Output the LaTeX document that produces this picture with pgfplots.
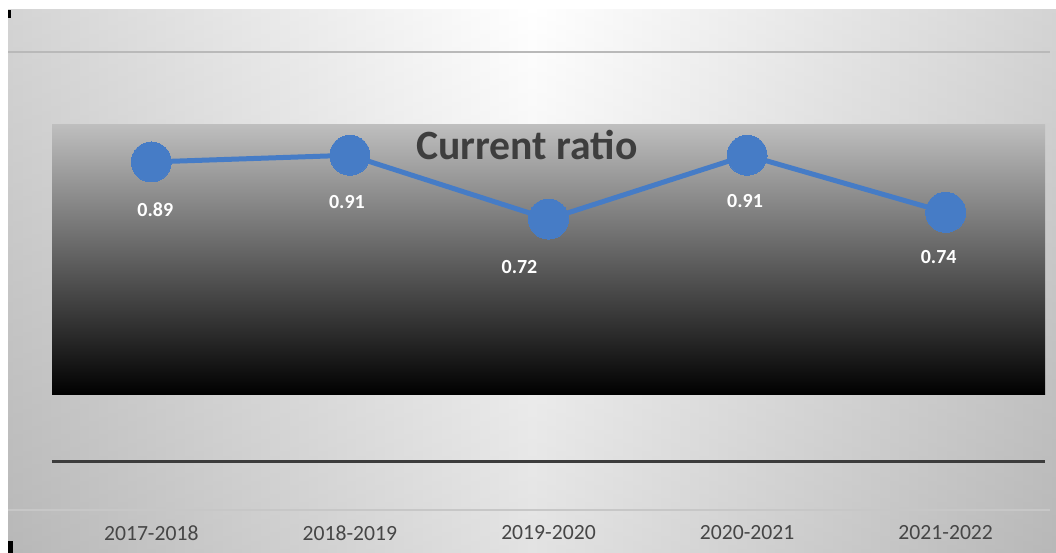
\documentclass[border=0pt]{standalone}
\usepackage{pgfplots}
\pgfplotsset{compat=1.18}
\usepackage{fontspec}
\setmainfont{Carlito}
\definecolor{ptblue}{RGB}{70,124,198}
\definecolor{titlegray}{RGB}{62,62,62}
\definecolor{ticklab}{RGB}{70,70,70}
\definecolor{panelgray}{RGB}{200,200,200}
\definecolor{boxtop}{RGB}{190,190,190}
\definecolor{axisdark}{RGB}{60,60,60}
\definecolor{lightline}{RGB}{185,185,185}

\pgfplotstableread{
x y lab dx dy
0 0.89 0.89 2.4 -28.6
1 0.91 0.91 -1.8 -28.2
2 0.72 0.72 -17.4 -28.8
3 0.91 0.91 -1.2 -27.6
4 0.74 0.74 -4.2 -27.0
}\ratiodata

\begin{document}
\begin{tikzpicture}
\begin{scope}[x=0.6pt,y=0.6pt]
\path[use as bounding box, fill=white] (0,0) rectangle (1056,553);
% background panel
\shade[left color=panelgray, right color=panelgray, middle color=white] (8,0) rectangle (1056,543);
\shade[top color=white, bottom color=gray, opacity=0.22] (8,0) rectangle (1056,543);
% corners
\fill[black] (8,543) rectangle (11,535);
\fill[black] (8,0) rectangle (13,12);
% dark plot box
\shade[top color=boxtop, bottom color=black] (52,158) rectangle (1045,428);
% decorative lines
\draw[line width=1.2pt, lightline] (8,501) -- (1050,501);
\draw[line width=0.8pt, lightline!80!white] (8,43) -- (1050,43);
\end{scope}

\begin{axis}[
  at={(31.2pt,25.8pt)}, anchor=south west,
  scale only axis, width=595.8pt, height=274.8pt,
  xmin=-0.5, xmax=4.5, ymin=-0.1458, ymax=1.2173,
  axis line style={draw=none},
  xtick={0,1,2,3,4},
  xticklabels={2017-2018,2018-2019,2019-2020,2020-2021,2021-2022},
  major tick length=0pt,
  ytick=\empty,
  extra y ticks={0},
  extra y tick labels={},
  extra y tick style={grid=major, major grid style={line width=1.8pt, color=axisdark}},
  xticklabel style={anchor=center, yshift=-13.8pt, font=\fontsize{13}{15}\selectfont, text=ticklab},
  clip=false,
]
\addplot[color=ptblue, line width=3pt, mark=*, mark size=12pt,
  mark options={fill=ptblue, draw=ptblue, line width=0pt},
  nodes near coords, point meta=explicit symbolic,
  visualization depends on={\thisrow{dx} \as \dx},
  visualization depends on={\thisrow{dy} \as \dy},
  every node near coord/.append style={anchor=center, xshift=\dx pt, yshift=\dy pt,
    text=white, font=\bfseries\fontsize{12}{14}\selectfont}]
  table[x=x, y=y, meta=lab] {\ratiodata};
\end{axis}

\node[font=\bfseries\fontsize{25}{30}\selectfont, text=titlegray] at (316.2pt,244.8pt) {Current ratio};
\end{tikzpicture}
\end{document}
